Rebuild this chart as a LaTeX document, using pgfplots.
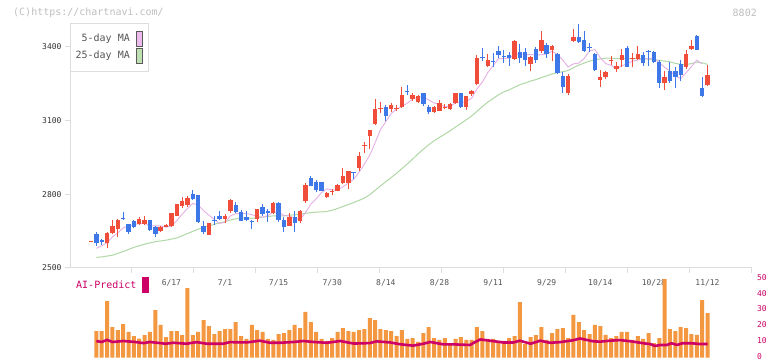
\documentclass[border=0pt]{standalone}
\usepackage{pgfplots}
\pgfplotsset{compat=1.18}
\usepackage{pgfplotstable}
\usepackage{fontspec}
\newfontfamily\mono{DejaVu Sans Mono}
\newcommand\tickfont{\mono\fontsize{8}{9.6}\selectfont}
\newcommand\txtfont{\mono\fontsize{10}{12}\selectfont}
\definecolor{cRed}{RGB}{240,78,58}
\definecolor{cBlue}{RGB}{62,120,232}
\definecolor{cPink}{RGB}{230,176,230}
\definecolor{cGreen}{RGB}{176,216,166}
\definecolor{cPinkS}{RGB}{236,186,236}
\definecolor{cGreenS}{RGB}{190,224,178}
\definecolor{cOrange}{RGB}{243,151,65}
\definecolor{cMag}{RGB}{204,0,102}
\definecolor{cAxis}{RGB}{221,221,221}
\definecolor{cTxt}{RGB}{85,85,85}

\pgfplotstableread{
i O H L C
0 2607 2611 2605 2611
3 2603 2647 2580 2643
4 2641 2695 2638 2671
5 2659 2698 2627 2695
9 2678 2707 2676 2699
10 2678 2710 2676 2695
13 2650 2672 2645 2668
14 2668 2680 2665 2675
15 2672 2725 2668 2722
16 2713 2762 2710 2760
17 2753 2790 2745 2772
18 2756 2792 2750 2783
22 2636 2684 2634 2683
25 2700 2720 2682 2711
26 2730 2782 2725 2778
31 2699 2740 2688 2738
34 2722 2768 2720 2763
37 2672 2722 2670 2709
39 2692 2735 2682 2732
40 2772 2845 2765 2837
44 2790 2808 2786 2806
45 2810 2823 2795 2814
46 2814 2841 2812 2839
47 2847 2905 2840 2874
48 2847 2896 2820 2894
50 2905 2972 2895 2955
51 2996 3014 2966 3000
52 3037 3063 2983 3061
53 3086 3186 3080 3145
54 3148 3173 3129 3152
56 3147 3170 3135 3163
57 3147 3163 3138 3151
58 3153 3237 3150 3203
60 3187 3210 3180 3203
61 3175 3203 3170 3199
64 3133 3160 3130 3155
65 3140 3185 3137 3172
66 3152 3167 3145 3156
67 3147 3172 3142 3165
68 3170 3212 3165 3210
70 3153 3201 3143 3199
71 3208 3223 3200 3221
72 3248 3365 3245 3353
74 3323 3369 3318 3346
79 3350 3425 3345 3423
82 3328 3360 3302 3358
84 3381 3464 3375 3427
86 3385 3407 3343 3403
89 3210 3290 3205 3280
90 3423 3472 3420 3441
95 3264 3305 3237 3277
96 3277 3300 3270 3297
97 3340 3362 3326 3344
98 3309 3339 3298 3322
99 3346 3389 3319 3366
101 3350 3373 3316 3354
102 3349 3403 3345 3370
107 3251 3302 3224 3276
111 3319 3387 3308 3370
112 3391 3427 3388 3403
115 3244 3326 3240 3285
}\up

\pgfplotstableread{
i O H L C
1 2637 2645 2590 2600
2 2612 2617 2593 2607
6 2704 2726 2696 2700
7 2677 2680 2640 2645
8 2690 2695 2662 2668
11 2695 2697 2650 2654
12 2668 2670 2625 2637
19 2800 2817 2776 2779
20 2795 2797 2682 2686
21 2670 2692 2640 2645
23 2694 2710 2676 2690
24 2711 2730 2697 2700
27 2757 2768 2722 2729
28 2728 2735 2690 2693
29 2708 2730 2690 2696
30 2693 2694 2658 2689
32 2747 2760 2713 2720
33 2730 2740 2688 2724
35 2763 2768 2688 2695
36 2695 2709 2645 2665
38 2709 2730 2646 2684
41 2865 2874 2832 2833
42 2849 2858 2808 2817
43 2849 2850 2812 2815
49 2889 2892 2862 2885
55 3155 3163 3099 3119
59 3220 3244 3203 3216
62 3210 3212 3160 3166
63 3155 3163 3125 3133
69 3210 3212 3152 3155
73 3356 3394 3340 3352
75 3343 3373 3319 3339
76 3381 3403 3355 3367
77 3361 3387 3335 3357
78 3367 3380 3323 3355
80 3377 3411 3333 3355
81 3377 3395 3320 3347
83 3390 3400 3335 3346
85 3405 3413 3353 3372
87 3372 3375 3290 3291
88 3280 3295 3213 3237
91 3441 3490 3415 3417
92 3425 3462 3380 3383
93 3399 3416 3380 3395
94 3372 3375 3300 3305
100 3395 3403 3317 3319
103 3366 3380 3323 3335
104 3381 3387 3323 3377
105 3377 3382 3335 3339
106 3339 3346 3233 3251
108 3301 3339 3254 3260
109 3301 3319 3231 3278
110 3328 3346 3260 3285
113 3444 3449 3385 3387
114 3231 3275 3194 3200
}\down

\pgfplotstableread{
i v
1 16.8
2 16.8
3 35.7
4 19.3
5 17.3
6 21.2
7 16.3
8 13.6
9 12.0
10 14.2
11 16.2
12 30.0
13 20.6
14 12.9
15 16.8
16 16.8
17 14.2
18 43.8
19 14.2
20 16.2
21 23.7
22 19.9
23 14.9
24 16.8
25 18.0
26 18.0
27 22.4
28 13.6
29 11.8
30 20.6
31 17.4
32 16.2
33 11.8
34 11.2
35 14.9
36 15.5
37 17.4
38 20.6
39 18.7
40 28.8
41 22.4
42 16.2
43 11.8
44 10.6
45 12.3
46 16.2
47 18.7
48 16.8
49 16.2
50 17.4
51 18.0
52 24.9
53 23.7
54 18.0
55 17.4
56 16.8
57 13.6
58 17.4
59 11.8
60 12.3
61 9.9
62 15.5
63 19.3
64 12.3
65 11.2
66 12.3
67 8.6
68 11.8
69 12.9
70 11.2
71 11.2
72 19.3
73 16.8
74 11.8
75 11.8
76 10.6
77 10.6
78 12.3
79 13.6
80 35.0
81 8.6
82 12.9
83 14.2
84 19.3
85 11.2
86 15.5
87 18.0
88 18.7
89 12.3
90 26.9
91 22.4
92 17.4
93 14.9
94 20.6
95 19.9
96 14.3
97 12.4
98 13.6
99 16.2
100 16.2
101 11.3
102 13.6
103 11.8
104 15.5
105 9.2
106 12.4
107 49.5
108 18.0
109 16.8
110 19.3
111 18.7
112 14.9
113 14.3
114 36.3
115 28.1
}\vol

\pgfplotstableread{
i m
1 2580
2 2590
3 2603
4 2626
5 2643
6 2663
7 2671
8 2676
9 2681
10 2681
11 2672
12 2671
13 2671
14 2666
15 2671
16 2692
17 2719
18 2742
19 2763
20 2756
21 2733
22 2715
23 2697
24 2681
25 2686
26 2712
27 2721
28 2722
29 2721
30 2717
31 2709
32 2707
33 2713
34 2727
35 2728
36 2713
37 2711
38 2703
39 2697
40 2725
41 2759
42 2781
43 2807
44 2822
45 2817
46 2818
47 2830
48 2845
49 2861
50 2889
51 2922
52 2959
53 3009
54 3063
55 3095
56 3128
57 3146
58 3158
59 3170
60 3187
61 3194
62 3197
63 3183
64 3171
65 3165
66 3156
67 3156
68 3172
69 3172
70 3177
71 3190
72 3228
73 3256
74 3294
75 3322
76 3351
77 3352
78 3353
79 3368
80 3371
81 3367
82 3368
83 3366
84 3367
85 3370
86 3381
87 3368
88 3346
89 3317
90 3330
91 3333
92 3352
93 3383
94 3388
95 3355
96 3331
97 3324
98 3309
99 3322
100 3330
101 3341
102 3346
103 3349
104 3351
105 3355
106 3334
107 3316
108 3301
109 3281
110 3270
111 3294
112 3319
113 3345
114 3329
}\mafive

\pgfplotstableread{
i m
1 2543
2 2545
4 2552
6 2567
8 2584
10 2597
12 2607
14 2613
16 2622
18 2640
20 2658
22 2671
24 2684
25 2688
26 2695
27 2700
28 2702
29 2703
30 2702
31 2704
32 2707
33 2709
34 2712
35 2712
36 2712
37 2715
38 2716
39 2718
40 2722
41 2725
42 2727
43 2728
44 2730
45 2735
46 2742
47 2750
48 2758
49 2766
50 2775
51 2784
52 2798
53 2816
54 2834
55 2851
56 2868
57 2885
58 2904
59 2923
60 2943
61 2964
62 2983
63 3001
64 3017
65 3031
66 3044
67 3058
68 3073
69 3087
70 3103
71 3118
72 3137
73 3156
74 3174
75 3189
76 3204
77 3216
78 3224
79 3235
80 3245
81 3252
82 3260
83 3266
84 3274
85 3281
86 3289
87 3294
88 3298
89 3303
90 3314
91 3325
92 3333
93 3341
94 3347
95 3350
96 3353
97 3353
98 3351
99 3352
100 3351
101 3351
102 3351
103 3351
104 3349
105 3348
106 3344
107 3341
108 3338
109 3332
110 3328
111 3327
112 3331
113 3337
114 3334
115 3328
}\matwentyfive

\begin{document}
\begin{tikzpicture}
\useasboundingbox (0pt,0pt) rectangle (772pt,361pt);
\fill[white] (0pt,0pt) rectangle (772pt,361pt);

% price panel
\begin{axis}[at={(70pt,93pt)}, anchor=south west, scale only axis,
  width=682pt, height=244pt,
  xmin=-3.917, xmax=123.3, ymin=2500, ymax=3492,
  axis x line*=bottom, axis y line*=left,
  axis line style={draw=cAxis, line width=1pt},
  tick align=outside, major tick length=5pt,
  tick style={draw=cAxis, line width=1pt},
  ytick={2500,2800,3100,3400}, yticklabels={2500,2800,3100,3400},
  yticklabel style={font=\tickfont, text=black!80},
  xtick={7.648,19.213,30.778,42.343,53.908,65.473,77.038,88.603,100.168,111.733,123.298},
  xticklabels={,,},
  clip=true]
\addplot[cGreen, line width=1pt] table[x=i,y=m]{\matwentyfive};
\addplot[cPink, line width=0.9pt] table[x=i,y=m]{\mafive};
% wicks
\addplot[draw=none, mark=none, error bars/.cd, y dir=plus, y explicit, error mark=none,
  error bar style={draw=cRed, line width=1pt}]
  table[x=i, y=L, y error plus expr=\thisrow{H}-\thisrow{L}]{\up};
\addplot[draw=none, mark=none, error bars/.cd, y dir=plus, y explicit, error mark=none,
  error bar style={draw=cBlue, line width=1pt}]
  table[x=i, y=L, y error plus expr=\thisrow{H}-\thisrow{L}]{\down};
% bodies
\addplot[draw=none, mark=none, error bars/.cd, y dir=plus, y explicit, error mark=none,
  error bar style={draw=cRed, line width=4.4pt}]
  table[x=i, y=O, y error plus expr=\thisrow{C}-\thisrow{O}]{\up};
\addplot[draw=none, mark=none, error bars/.cd, y dir=plus, y explicit, error mark=none,
  error bar style={draw=cBlue, line width=4.4pt}]
  table[x=i, y=C, y error plus expr=\thisrow{O}-\thisrow{C}]{\down};
\end{axis}

% volume / AI panel
\begin{axis}[at={(70pt,3.3pt)}, anchor=south west, scale only axis,
  width=682pt, height=79.4pt,
  xmin=-3.917, xmax=123.3, ymin=0, ymax=50,
  axis x line=none, axis y line*=right,
  y axis line style={draw=none},
  major tick length=0pt, ytick style={draw=none},
  ytick={0,10,20,30,40,50}, yticklabels={0,10,20,30,40,50},
  yticklabel style={font=\tickfont, text=cMag, anchor=west, xshift=1.5pt, yshift=1pt},
  clip=true]
\node[font=\tickfont, text=cTxt] at (axis cs:15,47.3) {6/17};
\node[font=\tickfont, text=cTxt] at (axis cs:25,47.3) {7/1};
\node[font=\tickfont, text=cTxt] at (axis cs:35,47.3) {7/15};
\node[font=\tickfont, text=cTxt] at (axis cs:45,47.3) {7/30};
\node[font=\tickfont, text=cTxt] at (axis cs:55,47.3) {8/14};
\node[font=\tickfont, text=cTxt] at (axis cs:65,47.3) {8/28};
\node[font=\tickfont, text=cTxt] at (axis cs:75,47.3) {9/11};
\node[font=\tickfont, text=cTxt] at (axis cs:85,47.3) {9/29};
\node[font=\tickfont, text=cTxt] at (axis cs:95,47.3) {10/14};
\node[font=\tickfont, text=cTxt] at (axis cs:105,47.3) {10/28};
\node[font=\tickfont, text=cTxt] at (axis cs:115,47.3) {11/12};
\addplot[ybar, bar width=4pt, fill=cOrange, draw=none] table[x=i,y=v]{\vol};
\addplot[cMag, line width=2.6pt, line join=round] coordinates {
(1,10.5)(2,9.9)(3,11.2)(4,9.9)(6,10.5)(8,10.0)(9.8,9.2)(11,9.9)(12.9,9.2)(13.9,8.8)
(15.4,9.4)(17.8,8.8)(19.7,9.8)(21.6,8.8)(24.7,8.8)(25.9,9.8)(29,9.6)(31.5,10.7)
(33.4,9.4)(35.3,9.4)(37.8,9.9)(39.6,10.5)(41.5,9.9)(44,9.4)(46.5,10.5)(49,8.9)
(52,9.2)(53.3,10.3)(55.8,9.6)(57.8,8.4)(60.1,7.6)(62,8.8)(63.3,9.9)(65.7,8.4)
(67.6,8.4)(70.7,8.0)(71.3,9.2)(72.6,11.5)(74.4,10.7)(76.9,9.6)(78.8,9.6)(80,10.7)
(82,8.8)(83.8,10.7)(85.6,9.4)(87.5,9.8)(90,11)(91.2,12.1)(93.7,10.3)(95,10.1)
(96.8,10.7)(98.7,11.1)(101.2,10.1)(103,9.1)(104.3,8.6)(105.2,7.4)(106.2,8.0)
(107.4,8.0)(108.3,9.1)(109.3,8.0)(110.3,9.1)(112,9.1)(113.6,8.6)(115,8.6)};
\end{axis}

% header
\node[anchor=west, inner sep=0, font=\txtfont, text=black!25] at (13pt,348.5pt) {(C)https://chartnavi.com/};
\node[anchor=east, inner sep=0, font=\txtfont, text=black!25] at (757pt,348.5pt) {8802};

% legend
\draw[cAxis, fill=white, line width=1pt] (70pt,289pt) rectangle (148pt,337pt);
\node[anchor=east, inner sep=0, font=\txtfont, text=cTxt] at (130pt,322pt) {5-day MA};
\node[anchor=east, inner sep=0, font=\txtfont, text=cTxt] at (130pt,305pt) {25-day MA};
\filldraw[fill=cPinkS, draw=black!65, line width=0.7pt] (136.5pt,314.5pt) rectangle (142.5pt,329.5pt);
\filldraw[fill=cGreenS, draw=black!65, line width=0.7pt] (136.5pt,298pt) rectangle (142.5pt,312.3pt);

% AI-Predict label
\node[anchor=west, inner sep=0, font=\txtfont, text=cMag] at (76pt,76pt) {AI-Predict};
\fill[cMag] (142pt,68pt) rectangle (149pt,84pt);
\end{tikzpicture}
\end{document}
